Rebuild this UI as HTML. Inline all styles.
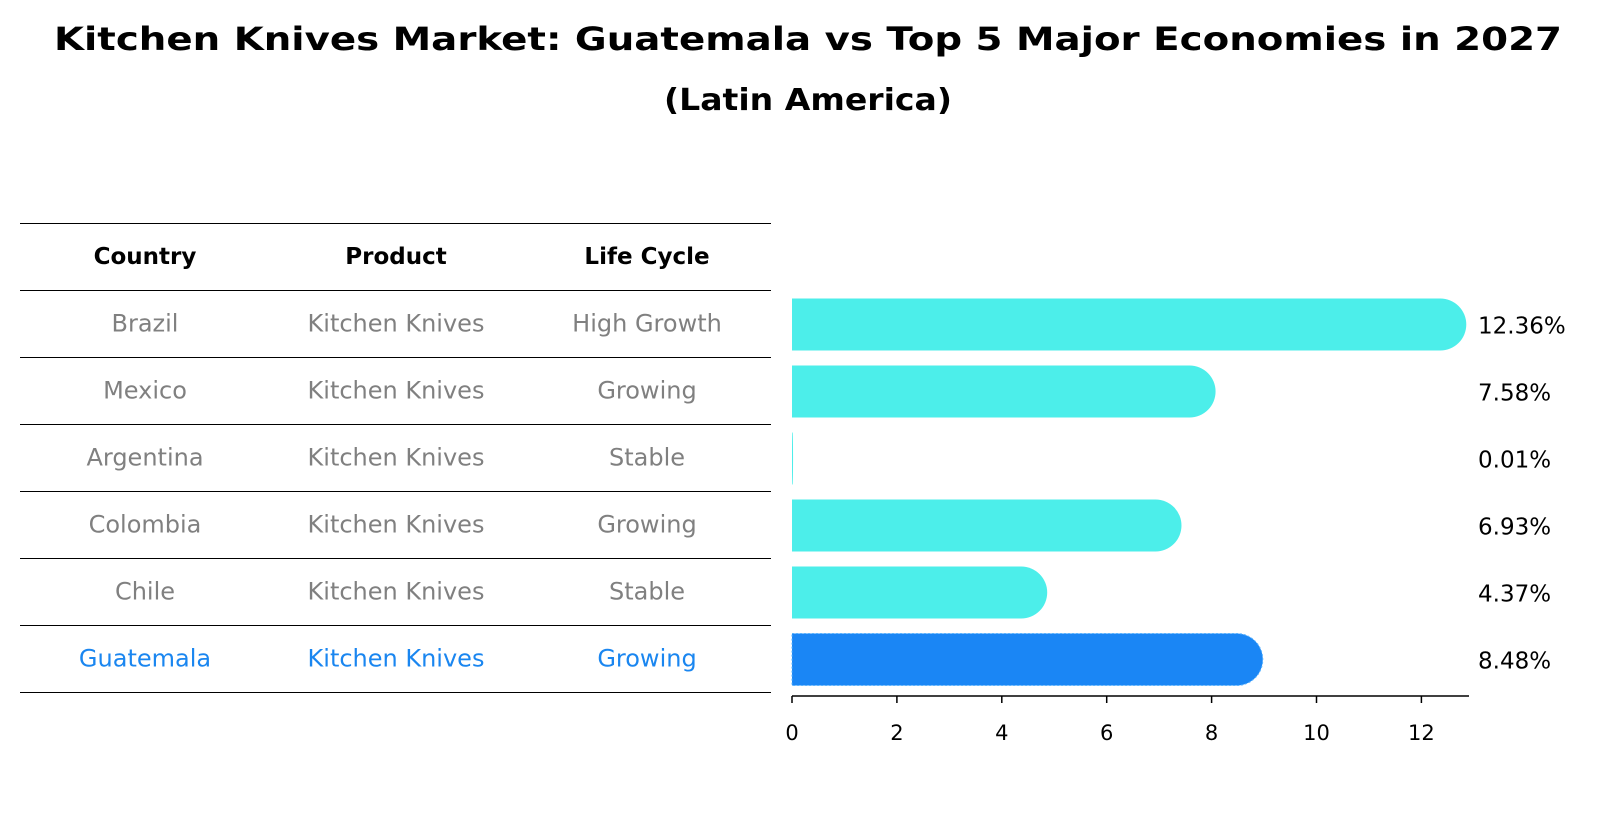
<!DOCTYPE html>
<html><head><meta charset="utf-8"><style>
body{margin:0;background:#fff;}
svg{display:block;font-family:"DejaVu Sans","Liberation Sans",sans-serif;}
</style></head><body>
<svg id="c" width="1604" height="823" viewBox="0 0 1604 823">
<text x="808" y="50" text-anchor="middle" font-size="32" font-weight="bold" textLength="1508" lengthAdjust="spacingAndGlyphs">Kitchen Knives Market: Guatemala vs Top 5 Major Economies in 2027</text>
<text x="808" y="110" text-anchor="middle" font-size="30" font-weight="bold" textLength="288" lengthAdjust="spacingAndGlyphs">(Latin America)</text>
<g id="table"></g>
<g id="bars"></g>
<g id="axis"></g>
</svg>
<script>
const countries=["Brazil","Mexico","Argentina","Colombia","Chile","Guatemala"];
const products=["Kitchen Knives","Kitchen Knives","Kitchen Knives","Kitchen Knives","Kitchen Knives","Kitchen Knives"];
const lifeCycles=["High Growth","Growing","Stable","Growing","Stable","Growing"];
const values=[12.36,7.58,0.01,6.93,4.37,8.48];
const labels=["12.36%","7.58%","0.01%","6.93%","4.37%","8.48%"];
const ticks=[0,2,4,6,8,10,12];
const highlight="Guatemala";

const NS="http://www.w3.org/2000/svg";
function mk(tag,attrs,parent){const e=document.createElementNS(NS,tag);for(const k in attrs)e.setAttribute(k,attrs[k]);parent.appendChild(e);return e;}
const x0=792,unit=52.45;
const xs=v=>x0+v*unit;
const rowTop=290,rowH=67;
const yc=i=>rowTop+rowH*i+rowH/2;
const T=document.getElementById('table'),B=document.getElementById('bars'),A=document.getElementById('axis');
const cols=[145,396,647];
["Country","Product","Life Cycle"].forEach((h,j)=>{
  const t=mk('text',{x:cols[j],y:264,'text-anchor':'middle','font-size':23,'font-weight':'bold'},T);
  
  
  t.textContent=h;
});
for(let i=0;i<=countries.length+1;i++){
  const y=(i===0?223:rowTop+rowH*(i-1))+0.5;
  const l=mk('line',{x1:20,x2:771,y1:y,y2:y,stroke:'#000','stroke-width':1},T);
  
  
}
countries.forEach((c,i)=>{
  const col=c===highlight?'#1a86f0':'#808080';
  [c,products[i],lifeCycles[i]].forEach((s,j)=>{
    const t=mk('text',{x:cols[j],y:yc(i)+8,'text-anchor':'middle','font-size':24,fill:col},T);
    
    
    t.textContent=s;
  });
  const h=52,top=yc(i)-h/2+1,x1=xs(values[i]),w=x1-x0,r=Math.min(h/2,w);
  const fill=c===highlight?'#1a86f5':'#4ceeea';
  const d=`M${x0},${top} L${x1},${top} A${r},${h/2} 0 0 1 ${x1},${top+h} L${x0},${top+h} Z`;
  const p=mk('path',{d:d,fill:fill},B);
  if(c===highlight){p.setAttribute('stroke','#5ab4ff');p.setAttribute('stroke-dasharray','2,2');p.setAttribute('stroke-width','1');}
  
  
  const t=mk('text',{x:1478,y:yc(i)+10,'font-size':23},B);
  
  
  t.textContent=labels[i];
});
const ax=mk('line',{x1:x0,x2:1469,y1:696,y2:696,stroke:'#000','stroke-width':1.5},A);


ticks.forEach(v=>{
  const l=mk('line',{x1:xs(v),x2:xs(v),y1:696,y2:703,stroke:'#000','stroke-width':1.5},A);
  
  
  const t=mk('text',{x:xs(v),y:740,'text-anchor':'middle','font-size':21},A);
  
  
  t.textContent=v;
});
</script>
</body></html>
